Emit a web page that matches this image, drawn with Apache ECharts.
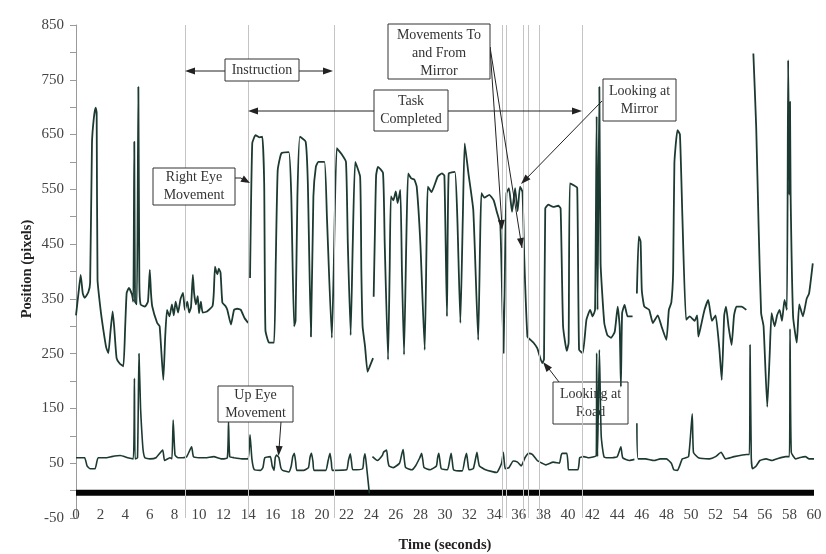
<!DOCTYPE html>
<html><head><meta charset="utf-8">
<script src="https://cdn.jsdelivr.net/npm/echarts/dist/echarts.min.js"></script>
<style>html,body{margin:0;padding:0;background:#fff}#c{width:826px;height:554px}</style>
</head><body><div id="c"></div>
<script>
// Right eye horizontal position (pixels) vs time (s); null = gap in trace
const rightEye = [
[0.0,320],[0.2,360],[0.38,394],[0.55,360],[0.7,352],[1.0,362],[1.15,380],[1.3,635],[1.45,680],[1.6,699],[1.68,690],[1.75,385],
[2.0,330],[2.22,294],[2.45,262],[2.63,251],[2.8,290],[2.98,327],[3.1,300],[3.3,242],[3.55,232],[3.85,227],[4.0,300],[4.12,361],
[4.3,370],[4.55,358],[4.66,345],[4.74,637],[4.8,345],[4.95,340],[5.07,737],[5.15,380],[5.25,340],[5.6,336],[5.85,345],[6.0,403],
[6.1,360],[6.2,336],[6.6,306],[6.8,300],[7.1,202],[7.25,280],[7.4,330],[7.6,318],[7.8,340],[7.95,320],[8.1,345],[8.3,325],[8.5,350],
[8.7,361],[8.85,330],[9.05,345],[9.2,325],[9.35,335],[9.5,394],[9.6,361],[9.75,340],[9.9,355],[10.0,324],[10.15,345],[10.3,325],
[10.65,327],[11.1,337],[11.2,360],[11.3,409],[11.4,400],[11.5,395],[11.6,405],[11.75,398],[11.9,343],[12.15,337],[12.3,330],[12.6,303],
[12.85,330],[13.1,332],[13.4,330],[13.7,315],[14.0,306],[14.07,null],
[14.15,388],[14.33,634],[14.6,649],[14.9,645],[15.15,646],[15.3,560],[15.4,293],[15.7,270],[16.1,270],[16.24,416],[16.4,585],[16.7,616],
[17.3,618],[17.5,540],[17.73,300],[17.85,310],[18.0,537],[18.2,646],[18.67,637],[18.85,560],[19.1,281],[19.3,537],[19.5,591],[19.7,600],
[20.2,600],[20.4,500],[20.8,279],[20.95,400],[21.2,625],[21.6,614],[21.95,600],[22.1,450],[22.33,284],[22.5,450],[22.7,600],[23.1,573],
[23.2,400],[23.3,300],[23.5,263],[23.7,217],[23.85,225],[24.15,242],[24.18,null],
[24.2,354],[24.3,470],[24.4,575],[24.55,591],[24.96,580],[25.1,450],[25.37,239],[25.5,400],[25.6,537],[25.8,530],[26.0,546],[26.15,525],
[26.37,549],[26.5,400],[26.67,248],[26.85,450],[27.0,579],[27.25,570],[27.5,568],[27.7,555],[28.0,450],[28.35,257],[28.5,450],[28.6,555],
[28.9,545],[29.4,573],[29.75,579],[29.95,575],[30.16,318],[30.3,579],[30.8,582],[31.0,500],[31.25,306],[31.45,500],[31.6,634],[31.9,580],
[32.3,512],[32.7,275],[32.85,450],[32.96,543],[33.2,535],[33.6,540],[33.96,530],[34.2,510],[34.5,485],[34.76,251],[34.9,450],[35.0,543],
[35.2,552],[35.45,509],[35.7,552],[35.9,510],[36.1,555],[36.3,545],[36.45,420],[36.7,281],[36.95,275],[37.2,270],[37.5,260],[37.9,233],
[38.05,240],[38.15,515],[38.4,522],[38.8,518],[39.2,520],[39.4,515],[39.6,300],[39.9,255],[40.05,270],[40.15,561],[40.5,557],[40.75,553],
[40.9,257],[41.2,251],[41.5,312],[41.8,330],[42.0,318],[42.2,330],[42.33,683],[42.4,330],[42.55,737],[42.65,415],[42.95,306],[43.2,284],
[43.5,279],[43.8,290],[44.04,336],[44.2,300],[44.3,190],[44.4,324],[44.6,339],[44.85,318],[45.25,318],[45.4,null],
[45.6,360],[45.75,464],[45.9,455],[46.0,366],[46.2,336],[46.6,330],[46.9,306],[47.3,320],[47.6,300],[48.0,275],[48.2,330],[48.4,343],
[48.55,400],[48.65,598],[48.9,658],[49.1,650],[49.3,500],[49.6,312],[49.9,318],[50.3,310],[50.5,320],[50.6,281],[50.8,300],[51.1,330],
[51.4,348],[51.7,310],[52.0,320],[52.3,260],[52.5,202],[52.7,320],[52.85,336],[53.05,300],[53.3,266],[53.5,320],[53.7,336],[54.1,336],
[54.5,330],[54.8,null],
[55.07,798],[55.3,664],[55.5,480],[55.7,324],[55.9,300],[56.2,153],[56.4,250],[56.55,324],[56.8,300],[57.0,320],[57.2,330],[57.4,310],
[57.6,348],[57.8,330],[57.9,786],[58.0,540],[58.05,710],[58.1,540],[58.3,318],[58.6,270],[58.8,340],[59.1,318],[59.4,350],[59.6,360],[59.9,415]
];
// Up (vertical) eye position (pixels) vs time (s)
const upEye = [
[0,60],[0.7,60],[0.9,45],[1.14,40],[1.55,40],[1.8,60],[2.5,60],[2.9,62],[3.6,64],[4.2,60],[4.66,58],[4.75,205],[4.8,58],[5.0,60],
[5.12,250],[5.25,150],[5.34,111],[5.45,75],[5.6,60],[6.0,58],[6.5,60],[7.05,74],[7.2,55],[7.64,60],[7.8,58],[7.9,129],[8.05,65],[8.3,60],
[8.7,60],[9.0,62],[9.4,80],[9.55,62],[10.0,60],[10.5,60],[11.2,62],[11.8,58],[12.3,60],[12.4,125],[12.5,62],[12.85,60],[13.5,58],[14.0,58],
[14.15,102],[14.3,58],[14.5,38],[15.0,37],[15.2,42],[15.35,60],[15.8,62],[15.95,45],[16.1,37],[16.2,60],[16.3,65],[16.5,60],[16.65,42],
[16.8,37],[17.3,34],[17.5,45],[17.62,62],[17.75,68],[17.86,52],[17.95,37],[18.5,37],[18.9,42],[19.02,60],[19.15,68],[19.27,52],[19.35,37],
[20.3,37],[20.5,55],[20.65,68],[20.76,52],[20.85,37],[22.0,38],[22.15,55],[22.3,67],[22.4,52],[22.5,38],[23.3,40],[23.4,58],[23.5,67],
[23.62,45],[23.85,-5],[24.0,null],
[24.1,62],[24.5,55],[24.9,64],[25.0,70],[25.25,74],[25.35,55],[25.45,45],[25.8,42],[26.3,50],[26.5,68],[26.6,75],[26.7,55],[26.8,42],
[27.3,38],[27.6,45],[27.95,60],[28.1,68],[28.2,55],[28.3,42],[28.8,38],[29.3,45],[29.4,60],[29.5,68],[29.6,52],[29.7,40],[30.2,38],
[30.4,58],[30.5,68],[30.6,52],[30.7,38],[31.4,36],[31.62,58],[31.75,68],[31.85,52],[31.95,38],[32.3,40],[32.5,60],[32.6,70],[32.7,55],
[32.8,45],[33.3,38],[34.2,33],[34.6,50],[34.74,70],[34.82,52],[34.9,40],[35.2,42],[35.55,54],[35.9,52],[36.2,45],[36.5,60],[36.8,68],
[37.1,66],[37.5,55],[37.9,50],[38.2,47],[38.8,52],[39.3,50],[39.45,65],[39.55,68],[39.9,68],[40.0,50],[40.05,38],[40.8,38],[40.9,50],
[40.95,60],[41.3,62],[41.7,60],[42.3,64],[42.33,251],[42.4,62],[42.55,257],[42.7,100],[42.95,61],[43.6,60],[44.0,62],[44.3,80],[44.45,60],
[45.0,55],[45.4,57],[45.5,null],
[45.6,123],[45.7,58],[46.3,58],[47.0,55],[47.5,58],[48.0,58],[48.4,50],[48.6,38],[48.9,37],[49.3,58],[49.8,62],[50.1,140],[50.2,70],
[50.6,60],[51.5,58],[52.0,62],[52.45,70],[52.8,58],[53.5,62],[54.5,66],[54.75,66],[54.8,266],[54.9,60],[55.0,40],[55.3,45],[55.6,55],
[56.1,58],[56.6,55],[57.0,58],[57.7,62],[58.0,62],[58.05,295],[58.15,70],[58.5,58],[58.8,60],[59.3,62],[59.6,58],[60.0,58]
];
// Baseline bar and event marker times
const baseBar = [[0,-4],[60,-4]];
const markerTimes = [8.86, 14.0, 20.98, 34.68, 34.97, 36.37, 36.74, 37.7, 41.15];
const yLabelValues = [-50, 50, 150, 250, 350, 450, 550, 650, 750, 850];

const chart = echarts.init(document.getElementById('c'), null, {renderer:'canvas'});
const SERIF = '"Liberation Serif", "Times New Roman", serif';
const TRACE = '#1c3a32';
const INK = '#222';

function head(tx, ty, fx, fy, L, W) {
  L = L || 10; W = W || 3.5;
  const dx = tx - fx, dy = ty - fy, d = Math.hypot(dx, dy);
  const ux = dx / d, uy = dy / d;
  const bx = tx - ux * L, by = ty - uy * L;
  return {type:'polygon', z:100, shape:{points:[[tx,ty],[bx - uy*W, by + ux*W],[bx + uy*W, by - ux*W]]}, style:{fill:INK}};
}
function seg(x1,y1,x2,y2,z){ return {type:'line', z:z||100, shape:{x1,y1,x2,y2}, style:{stroke:INK, lineWidth:1}}; }
function box(x,y,w,h,z){ return {type:'rect', z:z||100, shape:{x,y,width:w,height:h}, style:{fill:'#fff', stroke:'#333', lineWidth:1}}; }
function txt(s,x,y,z){ return {type:'text', z:(z||100)+1, style:{text:s, x, y, align:'center', verticalAlign:'middle', font:'14px '+SERIF, fill:'#333', lineHeight:18}}; }

const graphics = [
  // Instruction
  seg(188,71,330,71), head(185,71,200,71), head(333,71,318,71),
  box(225,59,74,22), txt('Instruction',262,70),
  // Task Completed
  seg(251,111,579,111), head(248,111,263,111), head(582,111,567,111),
  box(374,90,74,41), txt('Task\nCompleted',411,110.5),
  // Movements To and From Mirror
  seg(490,47,502,226), seg(490,47,522,248), head(502,230,490,47), head(522,248,490,47),
  box(388,24,102,55), txt('Movements To\nand From\nMirror',439,53),
  // Looking at Mirror
  seg(602,101,524,181), head(521,184,602,101),
  box(603,79,73,42), txt('Looking at\nMirror',639.5,100),
  // Right Eye Movement
  seg(235,178,241,178), seg(241,178,246,182), head(250,183,241,178,9,3.5),
  box(153,168,82,37), txt('Right Eye\nMovement',194,186.5),
  // Up Eye Movement
  seg(281,422,279,449), head(278.5,456,281,422),
  box(218,386,75,36), txt('Up Eye\nMovement',255.5,404),
  // Looking at Road (drawn under the traces)
  seg(559,382,546,365,1), head(543,362,559,382),
  box(553,382,75,42,1), txt('Looking at\nRoad',590.5,403,1),
  // Axis titles
  {type:'text', z:100, rotation:Math.PI/2, x:27, y:269, style:{text:'Position (pixels)', x:0, y:0, align:'center', verticalAlign:'middle', font:'bold 14.5px '+SERIF, fill:'#222'}},
  {type:'text', z:100, style:{text:'Time (seconds)', x:445, y:545, align:'center', verticalAlign:'middle', font:'bold 14.5px '+SERIF, fill:'#222'}}
];

chart.setOption({
  animation:false,
  backgroundColor:'#fff',
  grid:{left:76, top:25, width:738, height:493, containLabel:false},
  xAxis:{type:'value', min:0, max:60, interval:2,
    axisLine:{show:false}, axisTick:{show:false}, splitLine:{show:false},
    axisLabel:{margin:-3, verticalAlign:'middle', color:'#444', fontFamily:SERIF, fontSize:15}},
  yAxis:{type:'value', min:-50, max:850, interval:50,
    axisLine:{show:true, lineStyle:{color:'#9a9a9a', width:1}},
    axisTick:{show:true, length:6, lineStyle:{color:'#9a9a9a'}},
    splitLine:{show:false},
    axisLabel:{margin:12, color:'#444', fontFamily:SERIF, fontSize:15,
      formatter:v => yLabelValues.indexOf(v) >= 0 ? String(v) : ''}},
  graphic:graphics,
  series:[
    {type:'line', name:'markers', data:[], silent:true,
      markLine:{silent:true, symbol:['none','none'], label:{show:false},
        lineStyle:{color:'#c4c4c4', type:'solid', width:1},
        data:markerTimes.map(t => ({xAxis:t}))}},
    {type:'line', name:'base', data:baseBar, showSymbol:false, z:3,
      lineStyle:{color:'#050505', width:6}},
    {type:'line', name:'Right Eye', data:rightEye, showSymbol:false, connectNulls:false, z:4,
      smooth:0.15, lineStyle:{color:TRACE, width:1.8}},
    {type:'line', name:'Up Eye', data:upEye, showSymbol:false, connectNulls:false, z:4,
      smooth:0.15, lineStyle:{color:TRACE, width:1.6}}
  ]
});
</script></body></html>
